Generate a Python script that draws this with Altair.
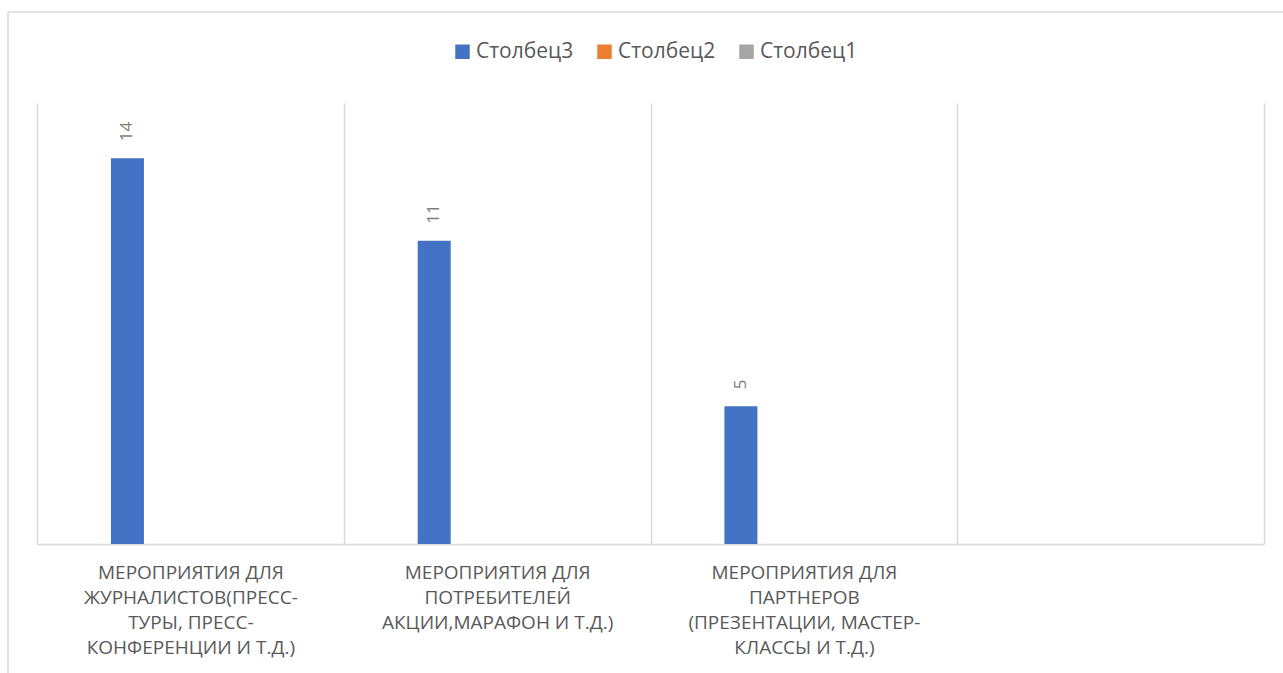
import altair as alt
import pandas as pd

# Category labels (line breaks mark how each label wraps under the axis)
categories = [
    "МЕРОПРИЯТИЯ ДЛЯ\nЖУРНАЛИСТОВ(ПРЕСС-\nТУРЫ, ПРЕСС-\nКОНФЕРЕНЦИИ И Т.Д.)",
    "МЕРОПРИЯТИЯ ДЛЯ\nПОТРЕБИТЕЛЕЙ\nАКЦИИ,МАРАФОН И Т.Д.)",
    "МЕРОПРИЯТИЯ ДЛЯ\nПАРТНЕРОВ\n(ПРЕЗЕНТАЦИИ, МАСТЕР-\nКЛАССЫ И Т.Д.)",
    "",
]

series_names = ["Столбец3", "Столбец2", "Столбец1"]
series_colors = ["#4472c4", "#ed7d31", "#a5a5a5"]

stolbets3 = [14, 11, 5, None]
stolbets2 = [None, None, None, None]
stolbets1 = [None, None, None, None]

rows = []
for name, values in zip(series_names, [stolbets3, stolbets2, stolbets1]):
    for cat, v in zip(categories, values):
        rows.append({"category": cat, "series": name, "value": v})
df = pd.DataFrame(rows)

GRID = "#d9d9d9"
FONT = "Open Sans"

x_enc = alt.X(
    "category:N",
    scale=alt.Scale(domain=categories, paddingInner=0, paddingOuter=0),
    sort=categories,
    axis=alt.Axis(
        title=None,
        labelAngle=0,
        ticks=False,
        tickBand="extent",
        grid=True,
        gridColor=GRID,
        gridWidth=1.5,
        domainColor=GRID,
        domainWidth=1.5,
        labelExpr="split(datum.label, '\\n')",
        labelFont=FONT,
        labelFontSize=19,
        labelColor="#595959",
        labelLineHeight=25,
        labelPadding=19,
        labelBaseline="top",
        labelLimit=0,
    ),
)
xoff_enc = alt.XOffset(
    "series:N",
    scale=alt.Scale(domain=series_names, paddingInner=0, paddingOuter=0.937),
)
y_enc = alt.Y("value:Q", scale=alt.Scale(domain=[0, 16]), axis=None)

base = alt.Chart(df).transform_filter("isValid(datum.value)")

bars = base.mark_bar(size=33).encode(
    x=x_enc,
    xOffset=xoff_enc,
    y=y_enc,
    color=alt.Color(
        "series:N",
        scale=alt.Scale(domain=series_names, range=series_colors),
        legend=alt.Legend(
            title=None,
            orient="none",
            direction="horizontal",
            legendX=415,
            legendY=-62,
            symbolType="square",
            symbolSize=210,
            symbolStrokeWidth=0,
            labelFont=FONT,
            labelFontSize=21,
            labelColor="#595959",
            labelOffset=3,
            columnPadding=20,
        ),
    ),
)

labels = base.mark_text(
    angle=270,
    align="left",
    baseline="middle",
    dx=17,
    font=FONT,
    fontSize=17,
    color="#7f7f7f",
).encode(
    x=x_enc,
    xOffset=xoff_enc,
    y=y_enc,
    text=alt.Text("value:Q", format="d"),
)

# Light frame around the whole chart
frame_src = alt.Chart(pd.DataFrame({"f": [0]}))
frame_left = frame_src.mark_rule(color=GRID, strokeWidth=1.5).encode(
    x=alt.value(-29), y=alt.value(-91), y2=alt.value(580)
)
frame_top = frame_src.mark_rule(color=GRID, strokeWidth=1.5).encode(
    x=alt.value(-29), x2=alt.value(1260), y=alt.value(-91)
)

chart = (
    alt.layer(frame_left, frame_top, bars, labels)
    .properties(
        width=1227,
        height=441,
        autosize=alt.AutoSizeParams(type="none"),
        padding={"left": 37, "top": 103, "right": 19, "bottom": 129},
        background="white",
    )
    .configure_view(stroke=None)
)

chart.save("out.html", embed_options={"renderer": "svg", "actions": False})
